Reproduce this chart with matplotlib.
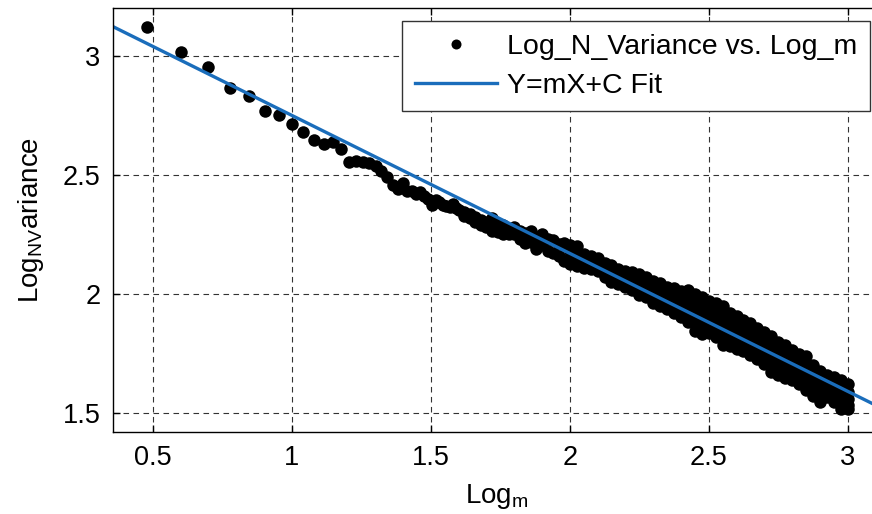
import matplotlib
matplotlib.use('Agg')
import matplotlib.pyplot as plt

plt.rcParams['font.family'] = ['Liberation Sans', 'DejaVu Sans']
plt.rcParams['mathtext.fontset'] = 'custom'
plt.rcParams['mathtext.rm'] = 'Liberation Sans'
plt.rcParams['mathtext.it'] = 'Liberation Sans:italic'

# single resolved points (small m)
early_log_m = [0.477, 0.602, 0.699, 0.778, 0.845, 0.903, 0.954, 1.000, 1.041, 1.079,
               1.114, 1.146, 1.176, 1.204, 1.230, 1.255, 1.279, 1.301, 1.322, 1.342,
               1.362, 1.380, 1.398, 1.415, 1.431, 1.447, 1.462, 1.477, 1.491, 1.505,
               1.519, 1.531, 1.544, 1.556, 1.568, 1.580, 1.591, 1.602]
early_log_var = [3.119, 3.014, 2.952, 2.864, 2.829, 2.769, 2.749, 2.714, 2.681, 2.647,
                 2.629, 2.638, 2.610, 2.553, 2.556, 2.553, 2.548, 2.536, 2.514, 2.490,
                 2.456, 2.440, 2.466, 2.432, 2.430, 2.420, 2.428, 2.410, 2.400, 2.372,
                 2.395, 2.385, 2.374, 2.370, 2.366, 2.378, 2.360, 2.352]

# dense part: columns of log_m with the log variance values seen in each
band_log_m = [1.62, 1.64, 1.66, 1.68, 1.70, 1.72, 1.74, 1.76, 1.78, 1.80,
              1.82, 1.84, 1.86, 1.88, 1.90, 1.92, 1.94, 1.96, 1.98,
              2.000, 2.025, 2.050, 2.075, 2.100, 2.125, 2.150, 2.175, 2.200, 2.225,
              2.250, 2.275, 2.300, 2.325, 2.350, 2.375, 2.400, 2.425, 2.450, 2.475,
              2.500, 2.525, 2.550, 2.575, 2.600, 2.625, 2.650, 2.675, 2.700, 2.725,
              2.750, 2.775, 2.800, 2.825, 2.850, 2.875, 2.900, 2.925, 2.950, 2.975,
              3.000]
band_log_var = [
    [2.345, 2.325], [2.336, 2.320], [2.322, 2.302], [2.310, 2.290], [2.303, 2.282],
    [2.318, 2.275, 2.262], [2.292, 2.260], [2.290, 2.252], [2.272, 2.250], [2.280, 2.250],
    [2.262, 2.232], [2.255, 2.212], [2.262, 2.218], [2.240, 2.190], [2.252, 2.205],
    [2.232, 2.180], [2.225, 2.172], [2.210, 2.160], [2.215, 2.140],
    [2.205, 2.180, 2.150, 2.125], [2.200, 2.170, 2.140, 2.115],
    [2.168, 2.150, 2.128, 2.110], [2.160, 2.140, 2.120, 2.105],
    [2.150, 2.130, 2.110, 2.095], [2.130, 2.110, 2.090, 2.070],
    [2.120, 2.100, 2.075, 2.050], [2.105, 2.085, 2.060, 2.040],
    [2.095, 2.075, 2.050, 2.030], [2.090, 2.065, 2.040, 2.015],
    [2.082, 2.055, 2.025, 1.995], [2.070, 2.040, 2.010, 1.985],
    [2.055, 2.030, 1.995, 1.960], [2.046, 2.015, 1.985, 1.950],
    [2.030, 2.000, 1.965, 1.935], [2.025, 1.990, 1.955, 1.920],
    [2.011, 1.975, 1.940, 1.904], [2.018, 1.975, 1.930, 1.900, 1.880],
    [2.000, 1.960, 1.925, 1.885, 1.845], [1.985, 1.945, 1.910, 1.870, 1.830],
    [1.969, 1.930, 1.900, 1.865, 1.835], [1.960, 1.925, 1.890, 1.855, 1.820],
    [1.948, 1.905, 1.865, 1.825, 1.785], [1.920, 1.885, 1.850, 1.815, 1.780],
    [1.905, 1.870, 1.835, 1.800, 1.770], [1.890, 1.855, 1.820, 1.790, 1.760],
    [1.878, 1.845, 1.810, 1.775, 1.743], [1.858, 1.825, 1.790, 1.755, 1.725],
    [1.840, 1.805, 1.770, 1.735, 1.705], [1.822, 1.785, 1.745, 1.710, 1.672],
    [1.800, 1.765, 1.730, 1.695, 1.660], [1.785, 1.750, 1.715, 1.680, 1.648],
    [1.765, 1.730, 1.700, 1.670, 1.640], [1.748, 1.715, 1.680, 1.650, 1.620],
    [1.738, 1.700, 1.665, 1.630, 1.596], [1.700, 1.670, 1.635, 1.600, 1.570],
    [1.675, 1.645, 1.610, 1.580, 1.548], [1.660, 1.630, 1.600, 1.575, 1.565],
    [1.650, 1.620, 1.590, 1.565, 1.545], [1.640, 1.610, 1.575, 1.545, 1.515],
    [1.620, 1.590, 1.560, 1.535, 1.515],
]

# fitted line Y = mX + C
fit_slope = -0.579
fit_intercept = 3.328
fit_x = [0.30, 3.20]

xs = list(early_log_m)
ys = list(early_log_var)
for x, col in zip(band_log_m, band_log_var):
    for y in col:
        xs.append(x)
        ys.append(y)

fig = plt.figure(figsize=(8.72, 5.14), dpi=100)
ax = fig.add_axes([0.1296, 0.1595, 0.8807, 0.8249])

ax.plot(xs, ys, 'o', color='k', ms=9, mew=0, label='Log_N_Variance vs. Log_m')
ax.plot(fit_x, [fit_slope * x + fit_intercept for x in fit_x], '-', color='#1a6dbb',
        lw=2.4, label='Y=mX+C Fit')

ax.set_xlim(0.356, 3.12)
ax.set_ylim(1.42, 3.20)
ax.set_xticks([0.5, 1, 1.5, 2, 2.5, 3])
ax.set_xticklabels(['0.5', '1', '1.5', '2', '2.5', '3'])
ax.set_yticks([1.5, 2, 2.5, 3])
ax.set_yticklabels(['1.5', '2', '2.5', '3'])

ax.grid(True, color='#333333', linestyle=(0, (5, 4)), lw=0.8)
ax.tick_params(direction='in', length=5, width=1, top=True, right=True,
               labelsize=19.5, pad=9)
for s in ax.spines.values():
    s.set_linewidth(1.0)

ax.set_xlabel('Log$_{\\mathrm{m}}$', fontsize=20, labelpad=8)
ax.set_ylabel('Log$_{\\mathrm{NV}}$ariance', fontsize=20, labelpad=12)

leg = ax.legend(loc='upper left', bbox_to_anchor=(402 / 872, 1 - 21 / 514),
                bbox_transform=fig.transFigure, borderaxespad=0, fontsize=20.5,
                fancybox=False, framealpha=1, edgecolor='#333333',
                handlelength=2.9, handletextpad=0.35, borderpad=0.45,
                labelspacing=0.45, markerscale=0.8)
leg.get_frame().set_linewidth(1.0)

fig.savefig('out.png', dpi=100)
